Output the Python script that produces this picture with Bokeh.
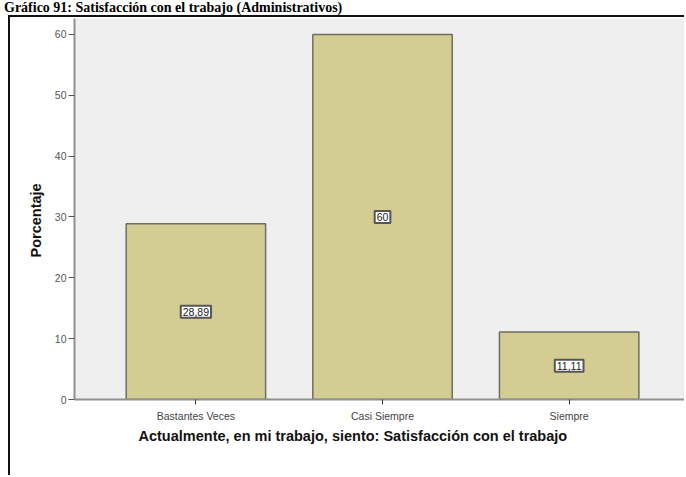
from bokeh.plotting import figure
from bokeh.models import ColumnDataSource, Label, FixedTicker, Div, Range1d, Spacer, Title
from bokeh.layouts import column, row
from bokeh.embed import file_html
from bokeh.resources import INLINE

title_text = "Gráfico 91: Satisfacción con el trabajo (Administrativos)"
categories = ["Bastantes Veces", "Casi Siempre", "Siempre"]
values = [28.89, 60.0, 11.11]
y_ticks = [0, 10, 20, 30, 40, 50, 60]
x_title = "Actualmente, en mi trabajo, siento: Satisfacción con el trabajo"
y_title = "Porcentaje"

def fmt(v):
    s = f"{v:.2f}".replace(".", ",")
    if s.endswith(",00"):
        s = s[:-3]
    return s

xs = list(range(1, len(categories) + 1))
src = ColumnDataSource(dict(x=xs, top=values))

p = figure(width=676, height=460, output_backend="svg", toolbar_location=None,
           x_range=Range1d(0.3495, 3.618), y_range=Range1d(0, 62.63),
           min_border_left=64, min_border_right=2, min_border_top=1, min_border_bottom=78)
p.styles = {"border-left": "2px solid #111111", "border-top": "2px solid #111111"}
p.background_fill_color = "#efefef"
p.border_fill_color = "white"
p.outline_line_color = None
p.xgrid.visible = False
p.ygrid.visible = False

p.vbar(x="x", top="top", bottom=0, width=0.747, source=src,
       fill_color="#d3cd93", line_color="#6e6e60", line_width=1.5)

for xv, v in zip(xs, values):
    p.add_layout(Label(x=xv, y=v / 2, text=fmt(v),
                       text_align="center", text_baseline="middle",
                       text_font="Liberation Sans", text_font_size="10.5px", text_color="#222222",
                       background_fill_color="white", border_line_color="#555555",
                       border_line_width=2, padding=2))

# x axis
p.xaxis.ticker = FixedTicker(ticks=xs)
p.xaxis.major_label_overrides = {i: c for i, c in zip(xs, categories)}
p.xaxis.major_label_text_font = "Liberation Sans"
p.xaxis.major_label_text_font_size = "10.5px"
p.xaxis.major_label_text_color = "#444444"
p.xaxis.major_label_standoff = 5
p.xaxis.axis_line_color = "#909090"
p.xaxis.axis_line_width = 2
p.xaxis.major_tick_line_color = "#333333"
p.xaxis.major_tick_out = 5
p.xaxis.major_tick_in = 0
p.xaxis.minor_tick_line_color = None

p.add_layout(Title(text=x_title, align="left", offset=64, standoff=3,
                   text_font="Liberation Sans", text_font_style="bold",
                   text_font_size="14.5px", text_color="#111111"), "below")

# y axis
p.yaxis.ticker = FixedTicker(ticks=y_ticks)
p.yaxis.major_label_text_font = "Liberation Sans"
p.yaxis.major_label_text_font_size = "10.5px"
p.yaxis.major_label_text_color = "#555555"
p.yaxis.major_label_standoff = 2
p.yaxis.axis_line_color = "#909090"
p.yaxis.axis_line_width = 2
p.yaxis.major_tick_line_color = "#555555"
p.yaxis.major_tick_out = 6
p.yaxis.major_tick_in = 0
p.yaxis.minor_tick_line_color = None

p.add_layout(Title(text=y_title, align="left", offset=142, standoff=16,
                   text_font="Liberation Sans", text_font_style="bold",
                   text_font_size="14.5px", text_color="#111111"), "left")

title = Div(text=title_text, width=686, height=15,
            styles={"font-family": "Liberation Serif", "font-weight": "bold",
                    "font-size": "14px", "line-height": "15px", "color": "#000000",
                    "margin": "0", "padding": "0 0 0 4px", "white-space": "nowrap"})

layout = column(title, row(Spacer(width=8, height=10), p, spacing=0), spacing=0)
open("out.html", "w").write(file_html(layout, INLINE))
